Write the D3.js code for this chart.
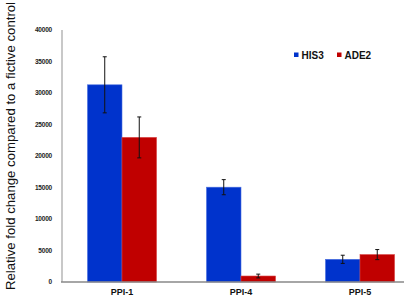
<!DOCTYPE html>
<html>
<head>
<meta charset="utf-8">
<script src="https://cdn.jsdelivr.net/npm/d3@7"></script>
<style>
  body { margin: 0; background: #fff; }
  svg { display: block; font-family: "Liberation Sans", Arial, sans-serif; }
</style>
</head>
<body>
<div id="chart"></div>
<script>
// chart data
const categories = ['PPI-1', 'PPI-4', 'PPI-5'];
const seriesNames = ['HIS3', 'ADE2'];
const his3Values = [31300, 15050, 3600];
const his3Errors = [4450, 1200, 650];
const ade2Values = [22950, 950, 4350];
const ade2Errors = [3250, 300, 800];
const yTicks = [0, 5000, 10000, 15000, 20000, 25000, 30000, 35000, 40000];

const colors = { HIS3: '#0033cc', ADE2: '#c00000' };

const width = 408, height = 299;
const svg = d3.select('#chart').append('svg')
  .attr('width', width)
  .attr('height', height);

// scales
const x = d3.scaleBand()
  .domain(categories)
  .range([62.5, 419.5])
  .paddingInner(0.42)
  .paddingOuter(0.21);
const xSub = d3.scaleBand()
  .domain(seriesNames)
  .range([0, x.bandwidth()]);
const y = d3.scaleLinear()
  .domain([0, 40000])
  .range([282, 30]);

// build rows for drawing
const rows = [];
categories.forEach((c, i) => {
  rows.push({ cat: c, series: 'HIS3', value: his3Values[i], err: his3Errors[i] });
  rows.push({ cat: c, series: 'ADE2', value: ade2Values[i], err: ade2Errors[i] });
});

// y axis (line only, labels)
svg.append('line')
  .attr('x1', 62).attr('x2', 62)
  .attr('y1', y(40000)).attr('y2', y(0))
  .attr('stroke', '#c8c8c8')
  .attr('stroke-width', 2);

svg.append('g')
  .selectAll('text')
  .data(yTicks)
  .join('text')
  .attr('x', 52)
  .attr('y', (d) => y(d))
  .attr('dy', '0.35em')
  .attr('text-anchor', 'end')
  .attr('font-size', 6.5)
  .attr('font-weight', 'bold')
  .attr('letter-spacing', -0.2)
  .attr('fill', '#222')
  .text((d) => d);

// bars
svg.append('g')
  .selectAll('rect')
  .data(rows)
  .join('rect')
  .attr('x', (d) => x(d.cat) + xSub(d.series))
  .attr('y', (d) => y(d.value))
  .attr('width', xSub.bandwidth())
  .attr('height', (d) => y(0) - y(d.value))
  .attr('fill', (d) => colors[d.series])
  .attr('stroke', (d) => d.series === 'HIS3' ? '#4a6fe0' : '#d84040')
  .attr('stroke-width', 0.6);

// error bars
const errG = svg.append('g')
  .attr('stroke', '#111')
  .attr('stroke-width', 1);
rows.forEach((d) => {
  const cx = x(d.cat) + xSub(d.series) + xSub.bandwidth() / 2;
  errG.append('line')
    .attr('x1', cx).attr('x2', cx)
    .attr('y1', y(d.value + d.err)).attr('y2', y(d.value - d.err));
  [d.value + d.err, d.value - d.err].forEach((v) => {
    errG.append('line')
      .attr('x1', cx - 2).attr('x2', cx + 2)
      .attr('y1', y(v)).attr('y2', y(v));
  });
});

// x baseline
svg.append('line')
  .attr('x1', 61).attr('x2', 404)
  .attr('y1', y(0)).attr('y2', y(0))
  .attr('stroke', '#888')
  .attr('stroke-width', 1.5);

// x labels
svg.append('g')
  .selectAll('text')
  .data(categories)
  .join('text')
  .attr('x', (d) => x(d) + x.bandwidth() / 2)
  .attr('y', 292)
  .attr('dy', '0.35em')
  .attr('text-anchor', 'middle')
  .attr('font-size', 9)
  .attr('font-weight', 'bold')
  .attr('fill', '#111')
  .text((d) => d);

// y title
svg.append('text')
  .attr('transform', 'translate(10,146) rotate(-90)')
  .attr('dy', '0.35em')
  .attr('text-anchor', 'middle')
  .attr('font-size', 13.2)
  .attr('fill', '#111')
  .text('Relative fold change compared to a fictive control');

// legend
const legend = svg.append('g');
const legendPos = [294, 337];
seriesNames.forEach((s, i) => {
  legend.append('rect')
    .attr('x', legendPos[i])
    .attr('y', 52.5)
    .attr('width', 4.5)
    .attr('height', 4.5)
    .attr('fill', colors[s]);
  legend.append('text')
    .attr('x', legendPos[i] + 7.5)
    .attr('y', 55)
    .attr('dy', '0.35em')
    .attr('font-size', 10)
    .attr('font-weight', 'bold')
    .attr('fill', '#111')
    .text(s);
});
</script>
</body>
</html>
